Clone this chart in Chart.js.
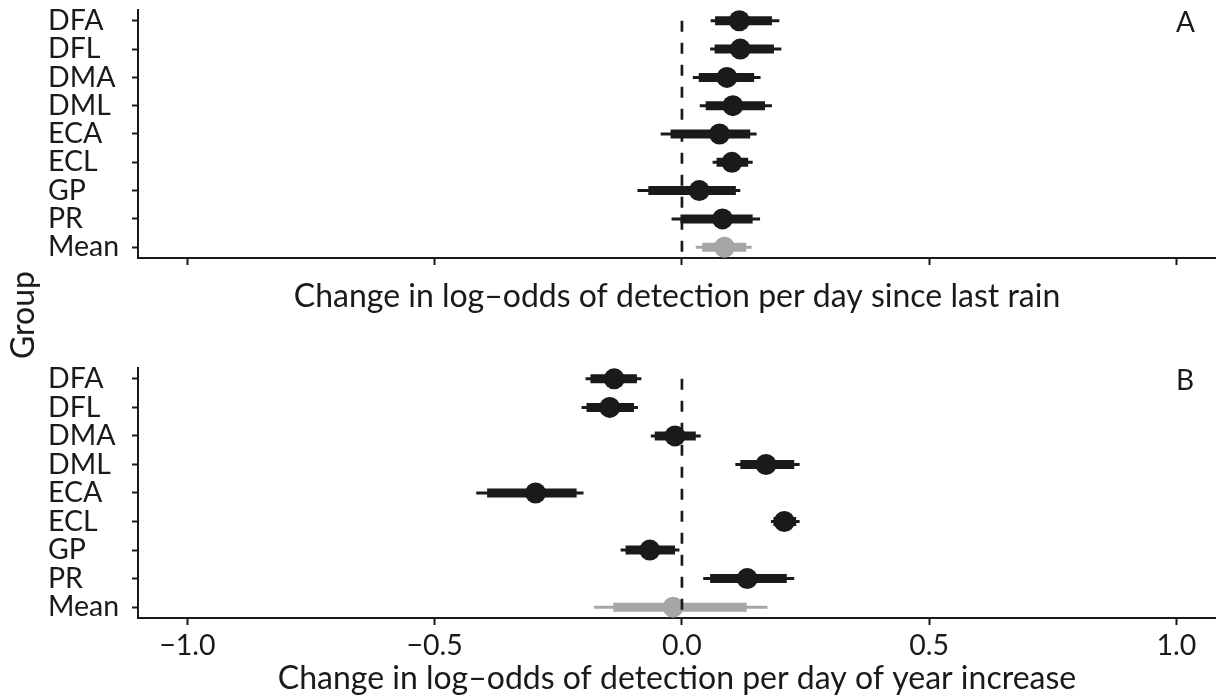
<!DOCTYPE html>
<html>
<head>
<meta charset="utf-8">
<script src="https://cdn.jsdelivr.net/npm/chart.js@4.4.1/dist/chart.umd.min.js"></script>
<style>
  html, body { margin: 0; padding: 0; background: #fff; }
  #wrap { position: relative; width: 1216px; height: 695px; overflow: hidden; font-family: Lato, sans-serif; color: #1a1a1a; }
  canvas { position: absolute; left: 0; }
  .tag { position: absolute; font-size: 28px; line-height: 1; }
  #group { position: absolute; left: 22px; top: 315px; transform: translate(-50%, -50%) rotate(-90deg); font-size: 32px; line-height: 1; white-space: nowrap; }
</style>
</head>
<body>
<div id="wrap">
  <canvas id="chartA" width="1216" height="330" style="top:0"></canvas>
  <canvas id="chartB" width="1216" height="355" style="top:340px"></canvas>
  <div class="tag" style="left:1176px;top:7px">A</div>
  <div class="tag" style="left:1176px;top:365px">B</div>
  <div id="group">Group</div>
</div>
<script>
// ---- data ----
const groups = ['DFA', 'DFL', 'DMA', 'DML', 'ECA', 'ECL', 'GP', 'PR', 'Mean'];
const xTicks = [-1, -0.5, 0, 0.5, 1];

// A: days since last rain
const rainMid  = [0.116, 0.118, 0.091, 0.103, 0.076, 0.101, 0.035, 0.082, 0.086];
const rainLo50 = [0.067, 0.066, 0.034, 0.048, -0.023, 0.070, -0.068, -0.003, 0.041];
const rainHi50 = [0.182, 0.186, 0.146, 0.168, 0.138, 0.134, 0.109, 0.143, 0.130];
const rainLo95 = [0.058, 0.057, 0.022, 0.036, -0.043, 0.062, -0.090, -0.021, 0.028];
const rainHi95 = [0.197, 0.201, 0.159, 0.182, 0.151, 0.143, 0.118, 0.158, 0.141];

// B: day of year
const doyMid  = [-0.137, -0.146, -0.014, 0.170, -0.296, 0.207, -0.065, 0.132, -0.018];
const doyLo50 = [-0.185, -0.193, -0.055, 0.118, -0.394, 0.185, -0.114, 0.057, -0.139];
const doyHi50 = [-0.091, -0.097, 0.028, 0.227, -0.213, 0.231, -0.014, 0.212, 0.131];
const doyLo95 = [-0.195, -0.203, -0.063, 0.108, -0.416, 0.180, -0.124, 0.043, -0.178];
const doyHi95 = [-0.082, -0.089, 0.038, 0.238, -0.199, 0.238, -0.005, 0.227, 0.173];

const INK = '#1a1a1a';
const GREY = '#a6a6a6';
const FONT = 'Lato, sans-serif';
const colors = groups.map(g => g === 'Mean' ? GREY : INK);
const yMax = groups.length - 1 + 0.38;

function fmt(v) {
  if (v === 0) return '0.0';
  return (v < 0 ? '\u2212' : '') + Math.abs(v).toFixed(1);
}

function panel(canvas, mid, lo50, hi50, lo95, hi95, cfg) {
  const seg = (lo, hi) => groups.map((g, i) => ({ x: [lo[i], hi[i]], y: i }));
  return new Chart(canvas, {
    type: 'bar',
    data: {
      datasets: [
        // zero reference line, drawn on top
        { type: 'line', data: [{ x: 0, y: 0 }, { x: 0, y: yMax }], borderColor: INK, borderWidth: 2.7,
          borderDash: [11, 11], pointRadius: 0, order: 0 },
        { type: 'scatter', data: groups.map((g, i) => ({ x: mid[i], y: i })), pointRadius: 10.5,
          pointBackgroundColor: colors, pointBorderWidth: 0, order: 1 },
        { data: seg(lo50, hi50), backgroundColor: colors, maxBarThickness: 9, grouped: false, order: 2 },
        { data: seg(lo95, hi95), backgroundColor: colors, maxBarThickness: 3, grouped: false, order: 3 }
      ]
    },
    options: {
      indexAxis: 'y',
      responsive: false,
      animation: false,
      layout: { autoPadding: false, padding: { top: cfg.padTop, right: 0, left: 48, bottom: 0 } },
      plugins: { legend: { display: false }, tooltip: { enabled: false } },
      scales: {
        x: {
          type: 'linear', min: -1.10, max: 1.08, offset: false, beginAtZero: false,
          afterBuildTicks: s => { s.ticks = xTicks.map(v => ({ value: v })); },
          border: { display: true, color: INK, width: 2 },
          grid: { offset: false, drawOnChartArea: false, drawTicks: true, tickLength: 7, tickColor: INK, tickWidth: 2 },
          ticks: { display: cfg.labels, color: INK, padding: cfg.tickPad, font: { family: FONT, size: 28.5 },
                   maxRotation: 0, autoSkip: false, callback: v => fmt(v) },
          title: { display: true, text: cfg.title, color: INK, font: { family: FONT, size: 32, lineHeight: 1 },
                   padding: { top: 0, bottom: cfg.titlePad } },
          afterFit: s => { s.height = cfg.xHeight; s.paddingLeft = 0; s.paddingRight = 0; }
        },
        y: {
          type: 'linear', min: -0.38, max: yMax, reverse: true, offset: false,
          afterBuildTicks: s => { s.ticks = groups.map((g, i) => ({ value: i })); },
          border: { display: true, color: INK, width: 2 },
          grid: { offset: false, drawOnChartArea: false, drawTicks: true, tickLength: 6, tickColor: INK, tickWidth: 2 },
          ticks: { color: INK, crossAlign: 'far', autoSkip: false, font: { family: FONT, size: 28.5 },
                   callback: v => groups[v] },
          afterFit: s => { s.width = 90; s.paddingTop = 0; s.paddingBottom = 0; }
        }
      }
    }
  });
}

panel(document.getElementById('chartA'), rainMid, rainLo50, rainHi50, rainLo95, rainHi95, {
  padTop: 10, xHeight: 72, labels: false, tickPad: 4, titlePad: 17,
  title: 'Change in log\u2013odds of detection per day since last rain'
});
panel(document.getElementById('chartB'), doyMid, doyLo50, doyHi50, doyLo95, doyHi95, {
  padTop: 28, xHeight: 77, labels: true, tickPad: 4, titlePad: 0,
  title: 'Change in log\u2013odds of detection per day of year increase'
});
</script>
</body>
</html>
